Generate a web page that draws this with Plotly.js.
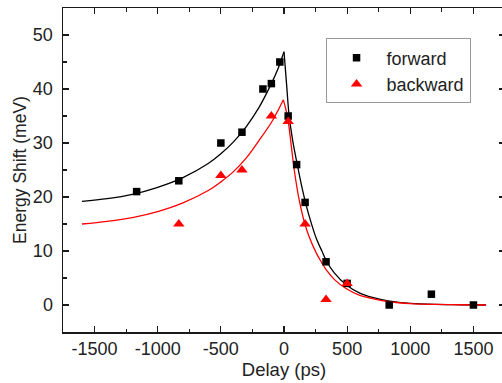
<!DOCTYPE html>
<html>
<head>
<meta charset="utf-8">
<script src="https://cdn.plot.ly/plotly-3.0.1.min.js"></script>
<style>
html,body{margin:0;padding:0;overflow:hidden;background:#fff;}
#chart{width:512px;height:383px;}
</style>
</head>
<body>
<div id="chart"></div>
<script>
// Measured points
const forwardDelay = [-1167, -833, -500, -333, -167, -100, -33, 33, 100, 167, 333, 500, 833, 1167, 1500];
const forwardShift = [21, 23, 30, 32, 40, 41, 45, 35, 26, 19, 8, 4, 0, 2, 0];
const backwardDelay = [-833, -500, -333, -100, 33, 167, 333, 500];
const backwardShift = [15, 24, 25, 35, 34, 15, 1, 4];

// Fit curves
const forwardFitRiseX = [-1600, -1400, -1200, -1000, -800, -600, -500, -400, -300, -200, -100, -50, 0];
const forwardFitRiseY = [19.2, 19.7, 20.5, 21.8, 23.6, 26.2, 28.0, 30.2, 33.0, 36.5, 41.0, 43.6, 46.9];
const forwardFitDecayX = [0, 20, 40, 70, 106, 140, 169, 200, 256, 300, 335, 400, 494, 600, 700, 837, 1000, 1200, 1400, 1600];
const forwardFitDecayY = [46.9, 41.0, 35.2, 30.3, 25.9, 22.0, 19.1, 16.4, 12.3, 10.0, 8.2, 5.9, 3.7, 2.2, 1.4, 0.7, 0.3, 0.1, 0.05, 0];
const backwardFitRiseX = [-1600, -1400, -1200, -1000, -800, -600, -500, -400, -300, -200, -100, -50, -5];
const backwardFitRiseY = [15.0, 15.5, 16.2, 17.3, 18.9, 21.2, 22.8, 24.7, 27.2, 30.4, 33.8, 35.9, 38.0];
const backwardFitDecayX = [-5, 15, 32, 60, 85, 120, 164, 200, 256, 300, 335, 400, 494, 600, 700, 837, 1000, 1200, 1400, 1600];
const backwardFitDecayY = [38.0, 36.2, 34.3, 29.0, 24.4, 19.5, 15.1, 12.6, 9.6, 7.8, 6.5, 4.7, 3.0, 1.8, 1.2, 0.6, 0.25, 0.1, 0.05, 0];

const xTickVals = [-1500, -1000, -500, 0, 500, 1000, 1500];
const yTickVals = [0, 10, 20, 30, 40, 50];

const fitLine = (x, y, color) => ({
  x: x, y: y, type: 'scatter', mode: 'lines',
  line: {color: color, width: 1.3, shape: 'spline', smoothing: 1},
  showlegend: false, hoverinfo: 'skip'
});

const data = [
  fitLine(forwardFitRiseX, forwardFitRiseY, '#000000'),
  fitLine(forwardFitDecayX, forwardFitDecayY, '#000000'),
  fitLine(backwardFitRiseX, backwardFitRiseY, '#ff0000'),
  fitLine(backwardFitDecayX, backwardFitDecayY, '#ff0000'),
  {x: forwardDelay, y: forwardShift, type: 'scatter', mode: 'markers', name: 'forward',
   marker: {symbol: 'square', size: 7.5, color: '#000000'}},
  {x: backwardDelay, y: backwardShift, type: 'scatter', mode: 'markers', name: 'backward',
   marker: {symbol: 'triangle-up', size: 10, color: '#ff0000'}}
];

const axisCommon = {
  showline: true, linecolor: '#1a1a1a', linewidth: 1.5, mirror: 'allticks',
  ticks: 'inside', ticklen: 6, tickwidth: 1.2, tickcolor: '#1a1a1a',
  showgrid: false, zeroline: false,
  tickfont: {family: 'Liberation Sans, Arial, sans-serif', size: 18, color: '#222'},
};

const layout = {
  width: 512, height: 383,
  margin: {l: 63, r: 7, t: 8, b: 51},
  paper_bgcolor: '#fff', plot_bgcolor: '#fff',
  font: {family: 'Liberation Sans, Arial, sans-serif', color: '#222'},
  xaxis: Object.assign({}, axisCommon, {
    range: [-1750, 1750], tickvals: xTickVals, ticktext: xTickVals.map(String),
    ticklabelstandoff: 0,
    minor: {dtick: 250, tick0: 0, ticks: 'inside', ticklen: 3.5, tickwidth: 1.2, tickcolor: '#1a1a1a'},
    title: {text: 'Delay (ps)', font: {size: 18.5, color: '#222'}, standoff: 4}
  }),
  yaxis: Object.assign({}, axisCommon, {
    range: [-5, 55], tickvals: yTickVals, ticktext: yTickVals.map(String),
    ticklabelstandoff: 5,
    minor: {dtick: 5, tick0: 0, ticks: 'inside', ticklen: 3.5, tickwidth: 1.2, tickcolor: '#1a1a1a'},
    title: {text: '\u00A0\u00A0Energy Shift (meV)', font: {size: 17.5, color: '#222'}, standoff: 1}
  }),
  legend: {
    x: 0.594, y: 0.906, xanchor: 'left', yanchor: 'top',
    bgcolor: '#fff', bordercolor: '#999', borderwidth: 1,
    font: {size: 18, color: '#222'}, itemwidth: 50
  },
  showlegend: true
};

Plotly.newPlot('chart', data, layout, {staticPlot: true, displayModeBar: false});
</script>
</body>
</html>
